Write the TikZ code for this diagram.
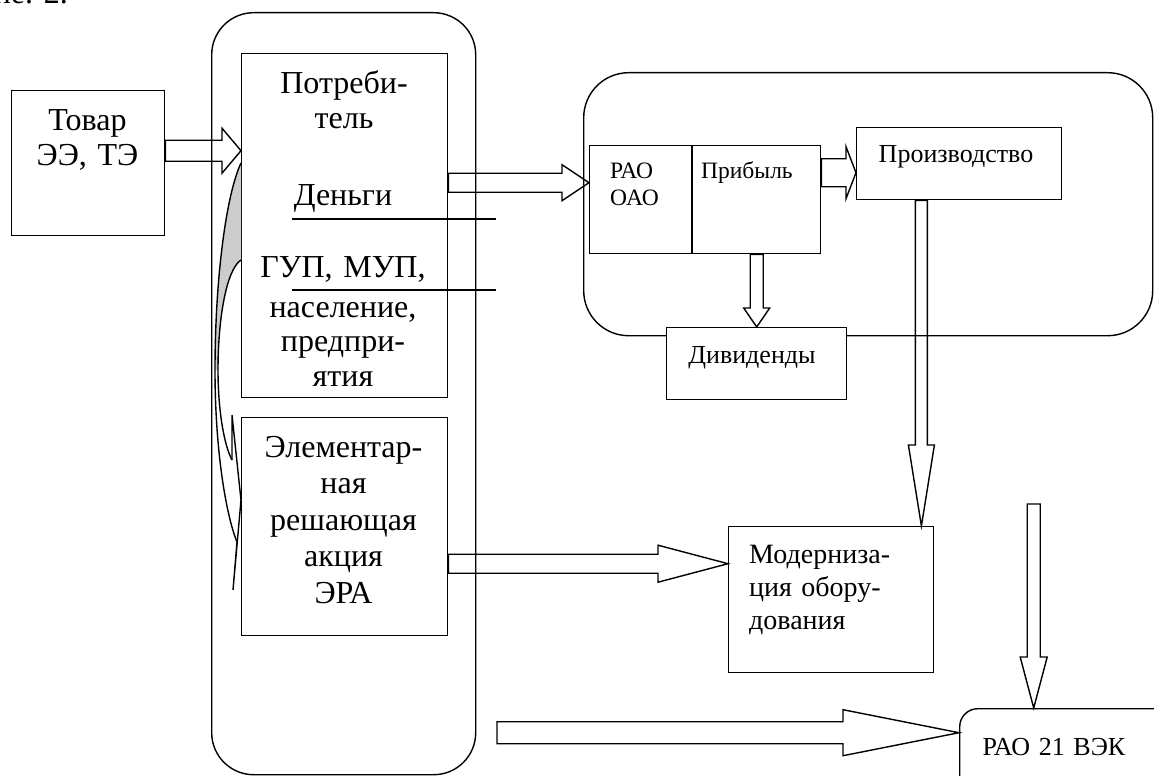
\documentclass[tikz,border=0pt]{standalone}
\usepackage{fontspec}
\setmainfont{Liberation Serif}
\usetikzlibrary{calc}
% horizontal block arrow: start point, tip, shaft half-width, head half-width, head length
\newcommand\harrowdraw[5]{%
  \draw[blockarrow] let \p1=#1, \p2=#2 in
    (\x1,\y2+#3pt) -- (\x2-#5pt,\y2+#3pt) -- (\x2-#5pt,\y2+#4pt) -- (\p2)
    -- (\x2-#5pt,\y2-#4pt) -- (\x2-#5pt,\y2-#3pt) -- (\x1,\y2-#3pt) -- cycle;}
% downward block arrow: start point, tip, shaft half-width, head half-width, head length
\newcommand\varrowdraw[5]{%
  \draw[blockarrow] let \p1=#1, \p2=#2 in
    (\x2-#3pt,\y1) -- (\x2-#3pt,\y2+#5pt) -- (\x2-#4pt,\y2+#5pt) -- (\p2)
    -- (\x2+#4pt,\y2+#5pt) -- (\x2+#3pt,\y2+#5pt) -- (\x2+#3pt,\y1) -- cycle;}
\newcommand\txtbig{\fontsize{32}{35}\selectfont}
\newcommand\txtmid{\fontsize{28}{33}\selectfont}
\newcommand\txtsmall{\fontsize{26}{29}\selectfont}
\newcommand\txttiny{\fontsize{23.5}{27}\selectfont}
\begin{document}
\begin{tikzpicture}[x=1pt,y=-1pt,
  plainbox/.style={draw, fill=white, line width=1.4pt, inner sep=0, anchor=north west},
  roundframe/.style={draw, line width=1.4pt, inner sep=0, anchor=north west},
  blockarrow/.style={draw, line width=1.4pt, line join=miter},
  thinline/.style={line width=1.4pt},
  lbl/.style={inner sep=0, anchor=base, align=center, text width=220pt},
  lbll/.style={inner sep=0, anchor=base west, align=left, text width=200pt}]
\useasboundingbox (0,0) rectangle (1154,776);
\clip (0,0) rectangle (1154,776);

% caption fragment at the top edge
\node[inner sep=0, anchor=base east, font=\txtbig] (capt) at (68,4) {ние. 2.};

% rounded group frames
\node[roundframe, rounded corners=42pt, minimum width=264pt, minimum height=762pt] (leftgroup) at (211,12) {};
\node[roundframe, rounded corners=45pt, minimum width=569pt, minimum height=263pt] (rightgroup) at (583,72) {};

% boxes
\node[plainbox, minimum width=153pt, minimum height=145pt] (tovar) at (11,90) {};
\node[plainbox, minimum width=206pt, minimum height=344pt] (cons) at (241,53) {};
\node[plainbox, minimum width=206pt, minimum height=218pt] (era) at (241,417) {};
\node[plainbox, minimum width=231pt, minimum height=108pt] (rao) at (589,145) {};
\node[plainbox, minimum width=205pt, minimum height=72pt] (prod) at (856,127) {};
\node[plainbox, minimum width=180pt, minimum height=72pt] (div) at (666,327) {};
\node[plainbox, minimum width=205pt, minimum height=146pt] (mod) at (728,526) {};
\node[plainbox, rounded corners=18pt, minimum width=212pt, minimum height=90pt] (vek) at (959,708) {};

% divider inside the RAO box
\draw[thinline] ($(rao.north west)+(103,0)$) -- ($(rao.south west)+(103,0)$);

% free ends of the two arrows into the RAO 21 VEK box
\coordinate (bstart) at (497,731);
\coordinate (vstart) at (1032,504);

% block arrows
\harrowdraw{(tovar.east)}{([yshift=75pt]cons.west)}{10.5}{22.5}{19}
\harrowdraw{(cons.east)}{([yshift=17pt]rao.west)}{9.5}{18}{27}
\harrowdraw{(rao.east)}{([yshift=-9pt]prod.west)}{14}{26}{10}
\harrowdraw{(era.east)}{([yshift=36pt]mod.west)}{9.5}{18.5}{70}
\harrowdraw{(bstart)}{([yshift=21pt]vek.west)}{11}{23}{116}
\varrowdraw{(rao.south)}{(div.north)}{6.5}{13}{19}
\varrowdraw{(prod.south)}{([xshift=-13pt]mod.north east)}{6}{13}{81}
\varrowdraw{(vstart)}{([xshift=-32pt]vek.north)}{6.5}{13.5}{51}

% rules across the consumer box
\draw[thinline] (292,219) -- (496,219);
\draw[thinline] (292,290) -- (496,290);

% curved arrow along the left side of the consumer boxes
\fill[gray!40] (241,163) .. controls (226,195) and (215,280) .. (215,370)
  -- (218,370) .. controls (218,320) and (226,270) .. (241,260) -- cycle;
\draw[thinline] (241,163) .. controls (226,195) and (215,280) .. (215,370)
  .. controls (215,450) and (226,515) .. (237,542);
\draw[thinline] (241,260) .. controls (226,270) and (218,320) .. (218,370)
  .. controls (218,410) and (224,445) .. (232,460);
\draw[thinline, line join=miter] (232,460) -- (232,415) -- (241,500) -- (233,590) -- (237,542);

% texts
\node[lbl, font=\txtbig] (tovartext) at (87.5,130) {Товар\\ЭЭ, ТЭ};
\node[lbl, font=\txtbig] (constext) at (344,93) {Потреби-\\тель};
\node[lbl, font=\txtbig] (money) at (343,205) {Деньги};
\node[lbl, font=\txtbig] (gup) at (343,277) {ГУП, МУП,};
\node[lbl, font=\fontsize{32}{34.5}\selectfont] (people) at (343,317) {население,\\предпри-\\ятия};
\node[lbl, font=\fontsize{32}{36.5}\selectfont] (eratext) at (343.5,457) {Элементар-\\ная\\решающая\\акция\\ЭРА};
\node[lbll, font=\txttiny] (raotext) at (610,178) {РАО\\ОАО};
\node[lbll, font=\txttiny] (profit) at (701,178) {Прибыль};
\node[lbl, font=\txtsmall] (prodtext) at (956,162) {Производство};
\node[lbl, font=\txtsmall] (divtext) at (752,363) {Дивиденды};
\node[lbll, font=\txtmid] (modtext) at (749,563) {Модерниза-\\ция обору-\\дования};
\node[lbl, font=\txtsmall] (vektext) at (1054,755) {РАО 21 ВЭК};
\end{tikzpicture}
\end{document}
